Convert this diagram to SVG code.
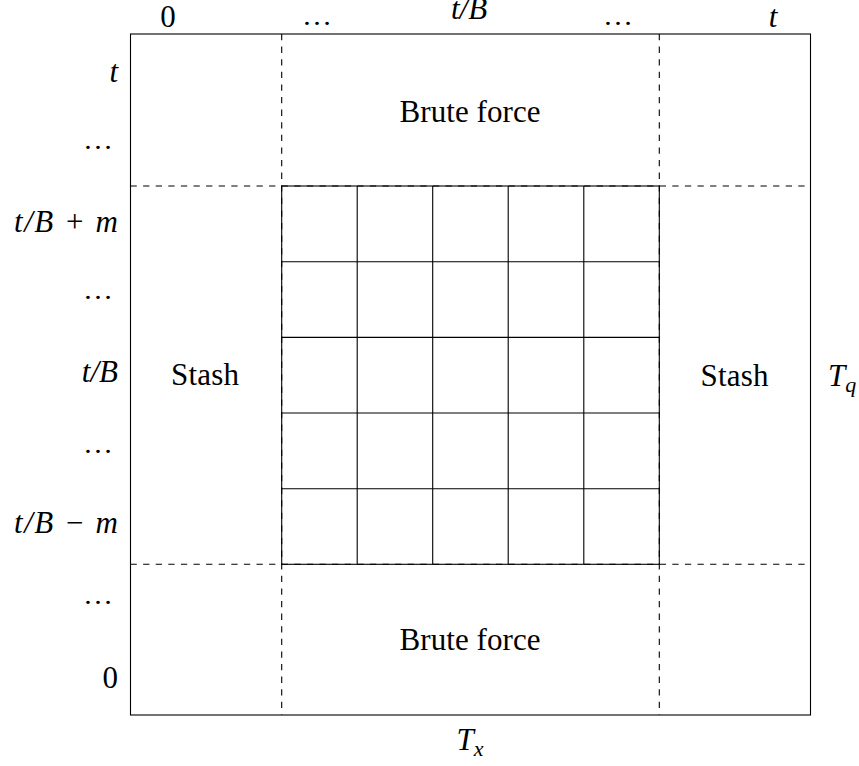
<svg xmlns="http://www.w3.org/2000/svg" width="859" height="766" viewBox="0 0 859 766">
<style>
text{font-family:"Liberation Serif","Times New Roman",serif;font-size:31px;fill:#000}
.m{font-style:italic}
.r{text-anchor:end}
.c{text-anchor:middle}
.d{font-size:28px}
.solid{stroke:#000;stroke-width:1.1;fill:none}
.dash{stroke:#000;stroke-width:1.1;fill:none;stroke-dasharray:6.3 6.3}
</style>
<rect x="0" y="0" width="859" height="766" fill="#fff"/>
<g id="frame">
<rect class="solid" x="130.5" y="34" width="680" height="681" stroke="#333"/>
</g>
<g id="connectors">
<line class="dash" x1="281.7" y1="34" x2="281.7" y2="715"/>
<line class="dash" x1="659.3" y1="34" x2="659.3" y2="715"/>
<line class="dash" x1="130.5" y1="186" x2="810.5" y2="186"/>
<line class="dash" x1="130.5" y1="564.3" x2="810.5" y2="564.3"/>
</g>
<g id="grid">
<rect class="solid" x="281.7" y="186" width="377.6" height="378.3"/>
<path class="solid" d="M357.2 186V564.3M432.7 186V564.3M508.2 186V564.3M583.8 186V564.3M281.7 261.7H659.3M281.7 337.4H659.3M281.7 413H659.3M281.7 488.7H659.3"/>
</g>
<g id="brute-top"><text class="c" x="470" y="122" textLength="141" lengthAdjust="spacing">Brute force</text></g>
<g id="brute-bottom"><text class="c" x="470" y="650" textLength="141" lengthAdjust="spacing">Brute force</text></g>
<g id="stash-left"><text class="c" x="205" y="385" textLength="68" lengthAdjust="spacing">Stash</text></g>
<g id="stash-right"><text class="c" x="734.5" y="386" textLength="68" lengthAdjust="spacing">Stash</text></g>
<g id="top-labels">
<text class="c" x="168" y="27">0</text>
<text class="c d" x="317" y="25" textLength="30" lengthAdjust="spacingAndGlyphs">…</text>
<text class="c m" x="469" y="19">t/B</text>
<text class="c d" x="618" y="25" textLength="30" lengthAdjust="spacingAndGlyphs">…</text>
<text class="c m" x="773" y="27">t</text>
</g>
<g id="left-labels">
<text class="r m" x="118" y="82">t</text>
<text class="r d" x="113" y="149" textLength="30" lengthAdjust="spacingAndGlyphs">…</text>
<text class="r m" x="118" y="232" textLength="104" lengthAdjust="spacing">t/B + m</text>
<text class="r d" x="113" y="299" textLength="30" lengthAdjust="spacingAndGlyphs">…</text>
<text class="r m" x="118" y="382">t/B</text>
<text class="r d" x="113" y="453" textLength="30" lengthAdjust="spacingAndGlyphs">…</text>
<text class="r m" x="118" y="533" textLength="104" lengthAdjust="spacing">t/B − m</text>
<text class="r d" x="113" y="604" textLength="30" lengthAdjust="spacingAndGlyphs">…</text>
<text class="r" x="118" y="688">0</text>
</g>
<g id="axis-labels">
<text class="m" x="828" y="386">T<tspan font-size="22" dy="6">q</tspan></text>
<text class="c m" x="470" y="750">T<tspan font-size="22" dy="6">x</tspan></text>
</g>
</svg>
